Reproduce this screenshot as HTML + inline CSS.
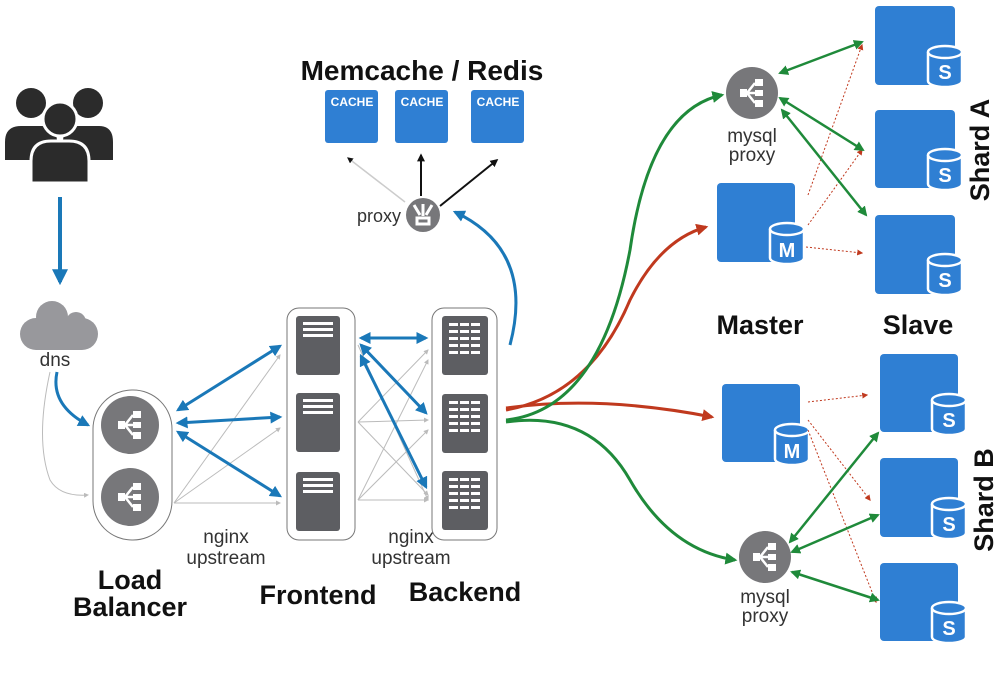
<!DOCTYPE html>
<html><head><meta charset="utf-8"><style>
html,body{margin:0;padding:0;background:#fff}
svg{display:block}
text{font-family:"Liberation Sans",sans-serif}
.b{font-weight:bold;fill:#111}
.l{fill:#333}
</style></head><body>
<svg width="1000" height="681" viewBox="0 0 1000 681" xmlns="http://www.w3.org/2000/svg">
<defs>
<marker id="ab" viewBox="0 0 10 10" refX="8" refY="5" markerWidth="4" markerHeight="4" orient="auto-start-reverse"><path d="M0,0L10,5L0,10z" fill="#1a78b8"/></marker>
<marker id="ag" viewBox="0 0 10 10" refX="8" refY="5" markerWidth="5" markerHeight="5" orient="auto-start-reverse"><path d="M0,0L10,5L0,10z" fill="#bbb"/></marker>
<marker id="ak" viewBox="0 0 10 10" refX="8" refY="5" markerWidth="4" markerHeight="4" orient="auto-start-reverse"><path d="M0,0L10,5L0,10z" fill="#111"/></marker>
<marker id="agr" viewBox="0 0 10 10" refX="8" refY="5" markerWidth="4" markerHeight="4" orient="auto-start-reverse"><path d="M0,0L10,5L0,10z" fill="#1f8a3a"/></marker>
<marker id="ar" viewBox="0 0 10 10" refX="8" refY="5" markerWidth="4" markerHeight="4" orient="auto-start-reverse"><path d="M0,0L10,5L0,10z" fill="#c0391e"/></marker>
<marker id="ard" viewBox="0 0 10 10" refX="8" refY="5" markerWidth="6" markerHeight="6" orient="auto"><path d="M0,0L10,5L0,10z" fill="#c0391e"/></marker>
<g id="lbicon"><path d="M-12,-4h7v8h-7z M3,-14h8v7h-8z M3,-3h8v6h-8z M3,7h8v7h-8z" fill="#fff"/><path d="M-5,0L3,-10M-5,0H3M-5,0L3,10" stroke="#fff" stroke-width="2.5"/></g>
<g id="srvF"><rect width="44" height="59" rx="3" fill="#5d5e62"/><rect x="7" y="6" width="30" height="3" fill="#fff"/><rect x="7" y="12" width="30" height="3" fill="#fff"/><rect x="7" y="18" width="30" height="3" fill="#fff"/></g>
<g id="srvB"><rect width="46" height="59" rx="3" fill="#5d5e62"/>
<g fill="#fff"><rect x="7" y="7" width="9" height="3"/><rect x="18" y="7" width="9" height="3"/><rect x="29" y="7" width="9" height="3"/><rect x="7" y="14" width="9" height="3"/><rect x="18" y="14" width="9" height="3"/><rect x="29" y="14" width="9" height="3"/><rect x="7" y="21" width="9" height="3"/><rect x="18" y="21" width="9" height="3"/><rect x="29" y="21" width="9" height="3"/><rect x="7" y="28" width="9" height="3"/><rect x="18" y="28" width="9" height="3"/><rect x="29" y="28" width="9" height="3"/><rect x="7" y="35" width="9" height="3"/><rect x="18" y="35" width="9" height="3"/><rect x="29" y="35" width="9" height="3"/></g></g>
</defs>

<g fill="#2b2b2b">
<circle cx="31" cy="103" r="15"/><circle cx="88" cy="103" r="15"/>
<path d="M5,160v-18q0,-16 16,-16h20q16,0 16,16v18z"/><path d="M63,160v-18q0,-16 16,-16h20q14,0 14,16v18z"/>
<circle cx="60" cy="119" r="17" stroke="#fff" stroke-width="3"/>
<path d="M31,183v-22q0,-20 20,-20h18q20,0 20,20v22z" stroke="#fff" stroke-width="3"/>
</g>
<line x1="60" y1="197" x2="60" y2="282" stroke="#1a78b8" stroke-width="4" marker-end="url(#ab)"/>
<g fill="#98989c"><circle cx="52" cy="317" r="16"/><circle cx="76" cy="322" r="10"/><rect x="20" y="318" width="78" height="32" rx="16"/></g>
<text x="55" y="366" font-size="19" text-anchor="middle" class="l">dns</text>
<path d="M57,372 Q50,405 88,425" fill="none" stroke="#1a78b8" stroke-width="3" marker-end="url(#ab)"/>
<path d="M50,372 Q35,440 50,480 Q60,497 88,495" fill="none" stroke="#bbb" stroke-width="1" marker-end="url(#ag)"/>

<rect x="93" y="390" width="79" height="150" rx="39" fill="none" stroke="#777" stroke-width="1"/>
<rect x="287" y="308" width="68" height="232" rx="12" fill="none" stroke="#777" stroke-width="1"/>
<rect x="432" y="308" width="65" height="232" rx="12" fill="none" stroke="#777" stroke-width="1"/>
<circle cx="130" cy="425" r="29" fill="#77777a"/><use href="#lbicon" x="130" y="425"/>
<circle cx="130" cy="497" r="29" fill="#77777a"/><use href="#lbicon" x="130" y="497"/>
<use href="#srvF" x="296" y="316"/><use href="#srvF" x="296" y="393"/><use href="#srvF" x="296" y="472"/>
<use href="#srvB" x="442" y="316"/><use href="#srvB" x="442" y="394"/><use href="#srvB" x="442" y="471"/>

<g stroke="#bbb" stroke-width="1" fill="none" marker-end="url(#ag)">
<line x1="174" y1="503" x2="280" y2="355"/><line x1="174" y1="503" x2="280" y2="428"/><line x1="174" y1="503" x2="280" y2="503"/>
<line x1="358" y1="422" x2="428" y2="350"/><line x1="358" y1="422" x2="428" y2="420"/><line x1="358" y1="422" x2="428" y2="495"/>
<line x1="358" y1="500" x2="428" y2="360"/><line x1="358" y1="500" x2="428" y2="430"/><line x1="358" y1="500" x2="428" y2="500"/>
<line x1="358" y1="345" x2="428" y2="500"/>
</g>
<g stroke="#1a78b8" stroke-width="3" fill="none" marker-start="url(#ab)" marker-end="url(#ab)">
<line x1="178" y1="410" x2="280" y2="346"/><line x1="178" y1="423" x2="280" y2="417"/><line x1="178" y1="432" x2="280" y2="496"/>
<line x1="361" y1="338" x2="426" y2="338"/><line x1="361" y1="345" x2="426" y2="413"/><line x1="361" y1="356" x2="426" y2="487"/>
</g>
<text x="226" y="543" font-size="19" text-anchor="middle" class="l">nginx</text>
<text x="226" y="564" font-size="19" text-anchor="middle" class="l">upstream</text>
<text x="411" y="543" font-size="19" text-anchor="middle" class="l">nginx</text>
<text x="411" y="564" font-size="19" text-anchor="middle" class="l">upstream</text>
<text x="130" y="589" font-size="27" text-anchor="middle" class="b">Load</text>
<text x="130" y="616" font-size="27" text-anchor="middle" class="b">Balancer</text>
<text x="318" y="604" font-size="27" text-anchor="middle" class="b">Frontend</text>
<text x="465" y="601" font-size="27" text-anchor="middle" class="b">Backend</text>

<text x="422" y="80" font-size="28" text-anchor="middle" class="b">Memcache / Redis</text>
<g fill="#2f7fd3"><rect x="325" y="90" width="53" height="53" rx="3"/><rect x="395" y="90" width="53" height="53" rx="3"/><rect x="471" y="90" width="53" height="53" rx="3"/></g>
<g font-size="12" fill="#fff" font-weight="bold" text-anchor="middle"><text x="352" y="106">CACHE</text><text x="422" y="106">CACHE</text><text x="498" y="106">CACHE</text></g>
<line x1="405" y1="202" x2="348" y2="158" stroke="#ccc" stroke-width="1.5" marker-end="url(#ak)"/>
<line x1="421" y1="196" x2="421" y2="155" stroke="#111" stroke-width="2" marker-end="url(#ak)"/>
<line x1="440" y1="206" x2="497" y2="160" stroke="#111" stroke-width="2" marker-end="url(#ak)"/>
<circle cx="423" cy="215" r="17" fill="#77777a"/>
<path d="M417,224h12v-6h-12z M414,205l6,10 M432,205l-6,10 M423,204v12" stroke="#fff" stroke-width="3" fill="none"/>
<text x="379" y="222" font-size="18" text-anchor="middle" class="l">proxy</text>
<path d="M510,345 Q535,250 455,212" fill="none" stroke="#1a78b8" stroke-width="3" marker-end="url(#ab)"/>

<path d="M506,410 Q590,395 630,300 Q660,240 706,227" fill="none" stroke="#c0391e" stroke-width="3" marker-end="url(#ar)"/>
<path d="M506,408 Q600,395 712,417" fill="none" stroke="#c0391e" stroke-width="3" marker-end="url(#ar)"/>
<path d="M506,420 Q600,410 630,250 Q650,110 722,95" fill="none" stroke="#1f8a3a" stroke-width="3" marker-end="url(#agr)"/>
<path d="M506,422 Q590,410 630,480 Q670,550 735,560" fill="none" stroke="#1f8a3a" stroke-width="3" marker-end="url(#agr)"/>

<g fill="#2f7fd3">
<rect x="875" y="6" width="80" height="79" rx="4"/><rect x="875" y="110" width="80" height="78" rx="4"/><rect x="875" y="215" width="80" height="79" rx="4"/>
<rect x="717" y="183" width="78" height="79" rx="4"/>
<rect x="880" y="354" width="78" height="78" rx="4"/><rect x="880" y="458" width="78" height="79" rx="4"/><rect x="880" y="563" width="78" height="78" rx="4"/>
<rect x="722" y="384" width="78" height="78" rx="4"/>
</g>
<g stroke="#fff" stroke-width="2.5" fill="#2f7fd3">
<path d="M928,52v29a17,6 0 0 0 34,0v-29"/><ellipse cx="945" cy="52" rx="17" ry="6"/>
<path d="M928,155v29a17,6 0 0 0 34,0v-29"/><ellipse cx="945" cy="155" rx="17" ry="6"/>
<path d="M928,260v29a17,6 0 0 0 34,0v-29"/><ellipse cx="945" cy="260" rx="17" ry="6"/>
<path d="M770,229v29a17,6 0 0 0 34,0v-29"/><ellipse cx="787" cy="229" rx="17" ry="6"/>
<path d="M932,400v29a17,6 0 0 0 34,0v-29"/><ellipse cx="949" cy="400" rx="17" ry="6"/>
<path d="M932,504v29a17,6 0 0 0 34,0v-29"/><ellipse cx="949" cy="504" rx="17" ry="6"/>
<path d="M932,608v29a17,6 0 0 0 34,0v-29"/><ellipse cx="949" cy="608" rx="17" ry="6"/>
<path d="M775,430v29a17,6 0 0 0 34,0v-29"/><ellipse cx="792" cy="430" rx="17" ry="6"/>
</g>
<g fill="#fff" font-weight="bold" font-size="20" text-anchor="middle">
<text x="945" y="79">S</text><text x="945" y="182">S</text><text x="945" y="287">S</text><text x="787" y="257">M</text>
<text x="949" y="427">S</text><text x="949" y="531">S</text><text x="949" y="635">S</text><text x="792" y="458">M</text>
</g>
<g stroke="#c0391e" stroke-width="1" stroke-dasharray="2,2" fill="none" marker-end="url(#ard)">
<line x1="808" y1="195" x2="862" y2="45"/><line x1="808" y1="225" x2="862" y2="150"/><line x1="806" y1="247" x2="862" y2="253"/>
<line x1="808" y1="402" x2="867" y2="395"/><line x1="808" y1="420" x2="870" y2="500"/><line x1="808" y1="430" x2="876" y2="602"/>
</g>
<g stroke="#1f8a3a" stroke-width="2.5" fill="none" marker-start="url(#agr)" marker-end="url(#agr)">
<line x1="780" y1="73" x2="862" y2="42"/><line x1="780" y1="98" x2="863" y2="150"/><line x1="782" y1="110" x2="866" y2="215"/>
<line x1="790" y1="542" x2="878" y2="433"/><line x1="792" y1="552" x2="878" y2="515"/><line x1="792" y1="572" x2="878" y2="600"/>
</g>
<circle cx="752" cy="93" r="26" fill="#77777a"/><use href="#lbicon" x="752" y="93"/>
<circle cx="765" cy="557" r="26" fill="#77777a"/><use href="#lbicon" x="765" y="557"/>
<text x="752" y="142" font-size="19" text-anchor="middle" class="l">mysql</text>
<text x="752" y="161" font-size="19" text-anchor="middle" class="l">proxy</text>
<text x="765" y="603" font-size="19" text-anchor="middle" class="l">mysql</text>
<text x="765" y="622" font-size="19" text-anchor="middle" class="l">proxy</text>
<text x="760" y="334" font-size="27" text-anchor="middle" class="b">Master</text>
<text x="918" y="334" font-size="27" text-anchor="middle" class="b">Slave</text>
<text transform="translate(989,150) rotate(-90)" font-size="27" text-anchor="middle" class="b">Shard A</text>
<text transform="translate(993,500) rotate(-90)" font-size="27" text-anchor="middle" class="b">Shard B</text>
</svg>
</body></html>
